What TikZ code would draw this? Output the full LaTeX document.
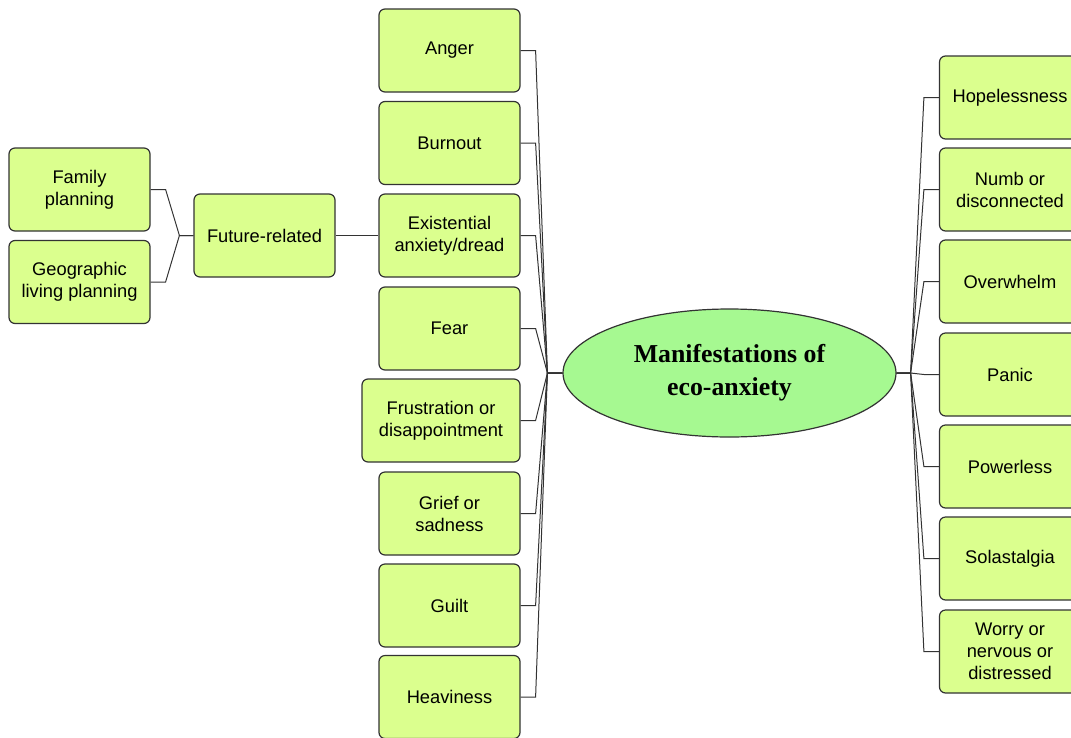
\documentclass[tikz,border=0pt]{standalone}
\usepackage{fontspec}
\setmainfont{Liberation Sans}
\newfontfamily\titlefont{Liberation Serif}
\usetikzlibrary{shapes.geometric}

\definecolor{boxgreen}{HTML}{DBFF8E}
\definecolor{hubgreen}{HTML}{A6F991}
\definecolor{edge}{HTML}{333333}

\begin{document}
\begin{tikzpicture}[x=1pt, y=-1pt,
  box/.style={draw=edge, line width=1.2pt, fill=boxgreen, rounded corners=6pt, align=center,
    minimum width=141pt, minimum height=83pt, inner sep=2pt,
    font=\fontsize{18.3}{22}\selectfont},
  hub/.style={draw=edge, line width=1.2pt, fill=hubgreen, ellipse, minimum width=333pt,
    minimum height=128pt, inner sep=0pt, align=center,
    font=\titlefont\bfseries\fontsize{25.8}{33}\selectfont},
  link/.style={draw=edge, line width=1pt}
]
\clip (0,0) rectangle (1071,737);
\node[hub] (eco) at (729.5,373) {Manifestations of\\eco-anxiety};
% left column
\node[box] (anger) at (449.5,50.5) {Anger};
\node[box] (burnout) at (449.5,143) {Burnout};
\node[box] (exist) at (449.5,235.5) {Existential\\anxiety/dread};
\node[box] (fear) at (449.5,328.5) {Fear};
\node[box, minimum width=158pt] (frust) at (441,420.5) {Frustration or\\disappointment};
\node[box] (grief) at (449.5,513.5) {Grief or\\sadness};
\node[box] (guilt) at (449.5,605.5) {Guilt};
\node[box] (heavy) at (449.5,697) {Heaviness};
% future branch
\node[box] (future) at (264.5,235.5) {Future-related};
\node[box] (family) at (79.5,189.5) {Family\\planning};
\node[box] (geo) at (79.5,282) {Geographic\\living planning};
% right column
\node[box] (hope) at (1010,97.5) {Hopelessness};
\node[box] (numb) at (1010,189.5) {Numb or\\disconnected};
\node[box] (over) at (1010,281.5) {Overwhelm};
\node[box] (panic) at (1010,374.5) {Panic};
\node[box] (power) at (1010,466.5) {Powerless};
\node[box] (sola) at (1010,558.5) {Solastalgia};
\node[box] (worry) at (1010,651.5) {Worry or\\nervous or\\distressed};
% junctions
\coordinate (jl) at ([xshift=-15pt]eco.west);
\coordinate (jr) at ([xshift=14pt]eco.east);
\coordinate (jf) at ([xshift=-14pt]future.west);
\foreach \n in {anger,burnout,exist,fear,frust,grief,guilt,heavy}
  \draw[link] (\n.east) -- ++(15,0) -- (jl) -- (eco.west);
\foreach \n in {hope,numb,over,panic,power,sola,worry}
  \draw[link] (\n.west) -- ++(-15,0) -- (jr) -- (eco.east);
\foreach \n in {family,geo}
  \draw[link] (\n.east) -- ++(15,0) -- (jf) -- (future.west);
\draw[link] (future.east) -- (exist.west);
\end{tikzpicture}
\end{document}
